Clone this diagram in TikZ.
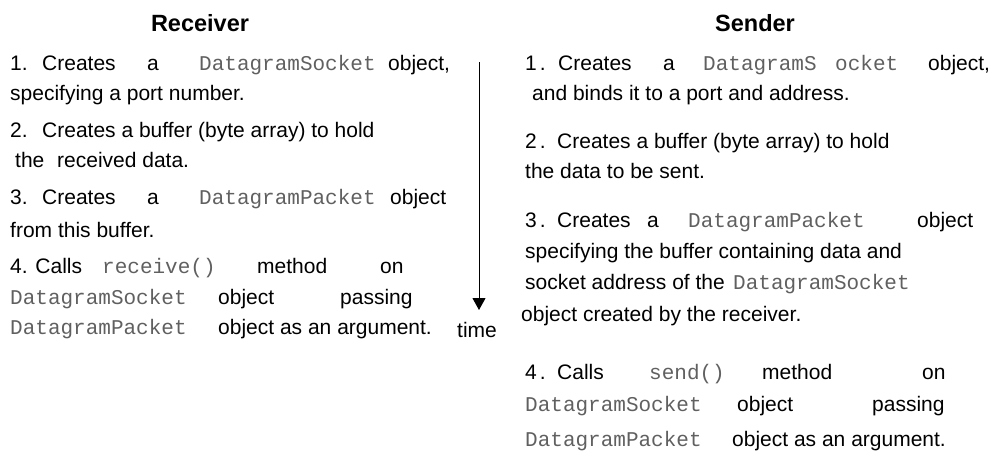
\documentclass[tikz,border=0pt]{standalone}
\usepackage{fontspec}
\setmainfont{Liberation Sans}
\newfontfamily\codefont{Liberation Mono}
\usetikzlibrary{arrows.meta}
\definecolor{codegray}{HTML}{606060}
\tikzset{
  txt/.style={anchor=base west, inner sep=0pt, font=\fontsize{21pt}{25pt}\selectfont, text=black},
  code/.style={anchor=base west, inner sep=0pt, font=\fontsize{21pt}{25pt}\selectfont\codefont, text=codegray},
  hdr/.style={anchor=base, inner sep=0pt, font=\fontsize{23.5pt}{28pt}\selectfont\bfseries, text=black},
  timearrow/.style={line width=1pt, -{Triangle[length=12pt,width=13pt]}}
}
\begin{document}
\begin{tikzpicture}[x=1pt,y=-1pt]
\useasboundingbox (0,0) rectangle (1000,455);
% headers
\node[hdr] (hr) at (200,31) {Receiver};
\node[hdr] (hs) at (755,31) {Sender};
% Receiver column
\node[txt] (l1a) at (10,70) {1.};
\node[txt] (l1b) at (42,70) {Creates};
\node[txt] (l1c) at (147,70) {a};
\node[code] (l1d) at (199,70) {DatagramSocket};
\node[txt] (l1e) at (388,70) {object,};
\node[txt] (l2) at (10,100) {specifying a port number.};
\node[txt] (l3a) at (10,137) {2.};
\node[txt] (l3b) at (42,137) {Creates a buffer (byte array) to hold};
\node[txt] (l4a) at (15,167) {the};
\node[txt] (l4b) at (57,167) {received data.};
\node[txt] (l5a) at (10,204) {3.};
\node[txt] (l5b) at (42,204) {Creates};
\node[txt] (l5c) at (147,204) {a};
\node[code] (l5d) at (199,204) {DatagramPacket};
\node[txt] (l5e) at (390,204) {object};
\node[txt] (l6) at (10,237) {from this buffer.};
\node[txt] (l7a) at (10,273) {4. Calls};
\node[code] (l7b) at (102,273) {receive()};
\node[txt] (l7c) at (257,273) {method};
\node[txt] (l7d) at (380,273) {on};
\node[code] (l8a) at (10,304) {DatagramSocket};
\node[txt] (l8b) at (218,304) {object};
\node[txt] (l8c) at (340,304) {passing};
\node[code] (l9a) at (10,334) {DatagramPacket};
\node[txt] (l9b) at (218,334) {object as an argument.};
% time arrow
\coordinate (ts) at (479,62);
\coordinate (te) at (479,310);
\draw[timearrow] (ts) -- (te);
\node[txt] (time) at (457,337) {time};
% Sender column
\node[txt] (r1a) at (525,70) {1\kern3pt.};
\node[txt] (r1b) at (558,70) {Creates};
\node[txt] (r1c) at (663,70) {a};
\node[code] (r1d) at (703,70) {DatagramS};
\node[code] (r1e) at (835,70) {ocket};
\node[txt] (r1f) at (928,70) {object,};
\node[txt] (r2) at (532,100) {and binds it to a port and address.};
\node[txt] (r3a) at (525,148) {2\kern3pt.};
\node[txt] (r3b) at (557,148) {Creates a buffer (byte array) to hold};
\node[txt] (r4) at (525,178) {the data to be sent.};
\node[txt] (r5a) at (525,227) {3\kern3pt.};
\node[txt] (r5b) at (557,227) {Creates};
\node[txt] (r5c) at (647,227) {a};
\node[code] (r5d) at (688,227) {DatagramPacket};
\node[txt] (r5e) at (917,227) {object};
\node[txt] (r6) at (525,258) {specifying the buffer containing data and};
\node[txt] (r7a) at (525,289) {socket address of the};
\node[code] (r7b) at (733,289) {DatagramSocket};
\node[txt] (r8) at (521,321) {object created by the receiver.};
\node[txt] (r9a) at (525,379) {4\kern3pt.};
\node[txt] (r9b) at (557,379) {Calls};
\node[code] (r9c) at (649,379) {send()};
\node[txt] (r9d) at (762,379) {method};
\node[txt] (r9e) at (922,379) {on};
\node[code] (r10a) at (525,411) {DatagramSocket};
\node[txt] (r10b) at (737,411) {object};
\node[txt] (r10c) at (872,411) {passing};
\node[code] (r11a) at (525,446) {DatagramPacket};
\node[txt] (r11b) at (732,446) {object as an argument.};
\end{tikzpicture}
\end{document}
